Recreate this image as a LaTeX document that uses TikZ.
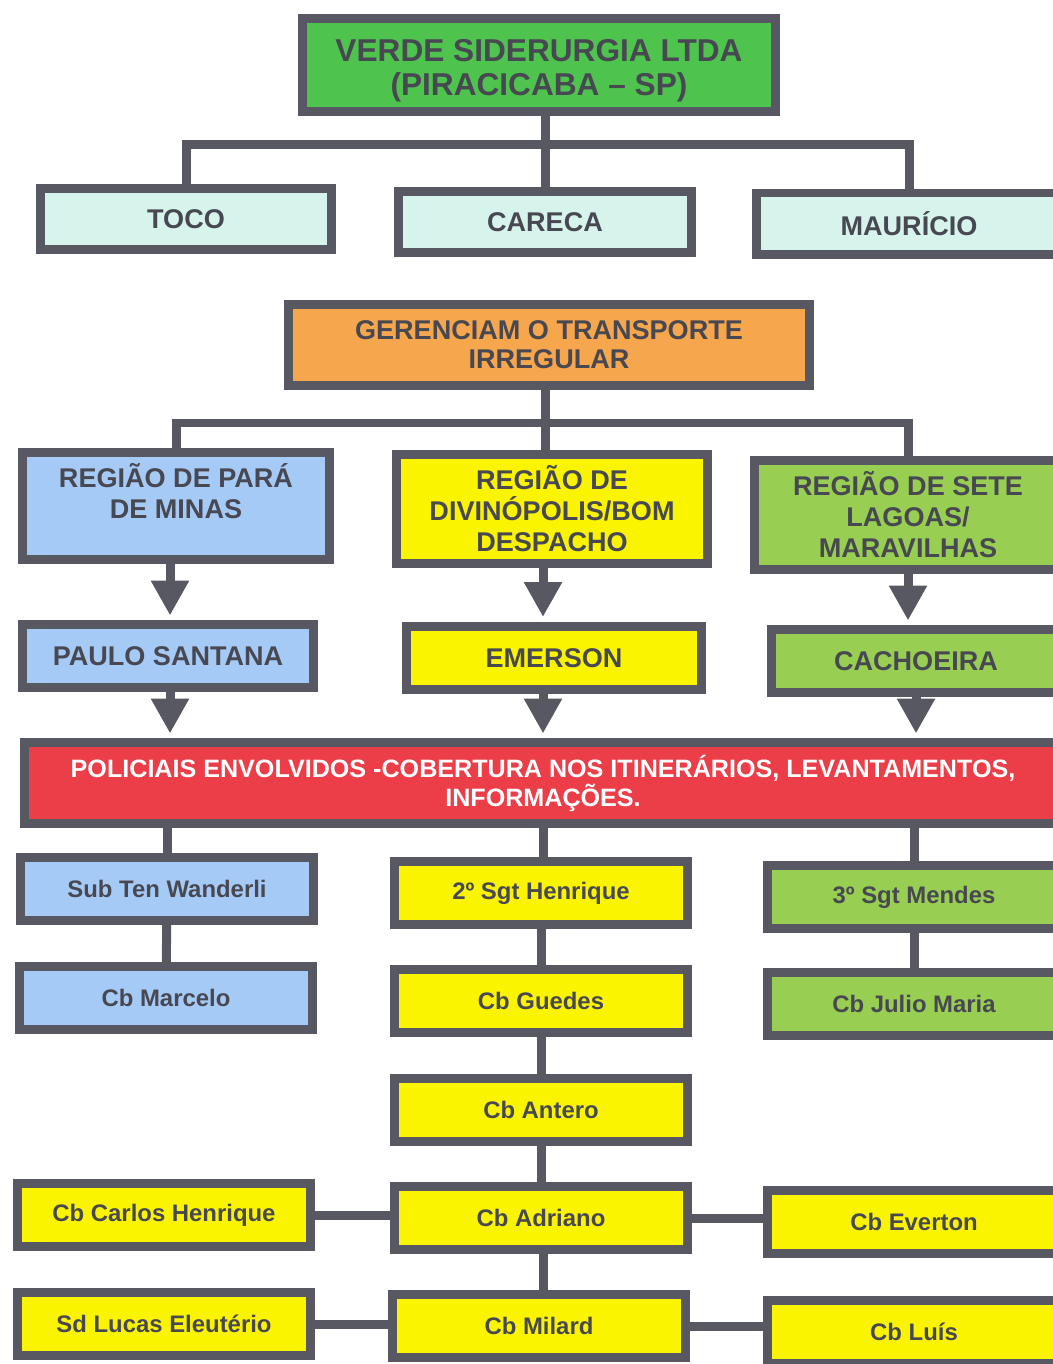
\documentclass[tikz,border=0pt]{standalone}
\usepackage{fontspec}
\setmainfont{Liberation Sans}
\usetikzlibrary{arrows.meta}
\definecolor{edge}{RGB}{88,88,98}
\definecolor{ink}{RGB}{72,72,82}
\definecolor{leafgreen}{RGB}{78,196,78}
\definecolor{mint}{RGB}{214,244,236}
\definecolor{tangerine}{RGB}{246,166,76}
\definecolor{sky}{RGB}{166,202,246}
\definecolor{lemon}{RGB}{250,244,0}
\definecolor{grass}{RGB}{152,206,82}
\definecolor{alarm}{RGB}{236,62,72}
\newcommand*{\lw}{0.18cm}
\newcommand*{\bw}{5.86cm}
\newcommand*{\bh}{1.26cm}
\newcommand*{\capfont}{\bfseries\fontsize{15.4}{17.6}\selectfont}
\newcommand*{\namefont}{\bfseries\fontsize{13.6}{16}\selectfont}
\tikzset{
  box/.style={draw=edge, line width=\lw, inner sep=0pt, align=center, text=ink},
  capbox/.style={box, font=\capfont},
  namebox/.style={box, font=\namefont, minimum width=\bw, minimum height=\bh},
  link/.style={draw=edge, line width=\lw},
  arrow/.style={link, -{Triangle[width=0.72cm,length=0.7cm]}, shorten >=0.09cm},
}

\begin{document}
\begin{tikzpicture}[x=0.02cm, y=-0.02cm]
    \useasboundingbox (0,0) rectangle (1053,1364);
    \clip (0,0) rectangle (1053,1364);
    \coordinate (colL) at (170,0);
    \coordinate (colM) at (543,0);
    % empresa e donos
    \node [capbox, fill=leafgreen, font=\bfseries\fontsize{18}{19.4}\selectfont, minimum width=9.46cm, minimum height=1.86cm, text height=39pt] (verde) at (539,65) {VERDE SIDERURGIA LTDA\\(PIRACICABA – SP)};
    \node [capbox, fill=mint, minimum width=5.82cm, minimum height=1.22cm] (toco) at (186,219) {TOCO};
    \node [capbox, fill=mint, minimum width=5.86cm, minimum height=1.22cm] (careca) at (545,222) {CARECA};
    \node [capbox, fill=mint, minimum width=6.10cm, minimum height=1.24cm] (mauricio) at (909,224) {MAURÍCIO};
    % gerencia
    \node [capbox, fill=tangerine, font=\bfseries\fontsize{15.4}{16.5}\selectfont, minimum width=10.44cm, minimum height=1.62cm] (geren) at (549,345) {GERENCIAM O TRANSPORTE\\IRREGULAR};
    \node [capbox, fill=sky, minimum width=6.16cm, minimum height=2.16cm, text depth=0.6cm] (para) at (176,506) {REGIÃO DE PARÁ\\DE MINAS};
    \node [capbox, fill=lemon, minimum width=6.22cm, minimum height=2.18cm] (divin) at (552,509) {REGIÃO DE\\DIVINÓPOLIS/BOM\\DESPACHO};
    \node [capbox, fill=grass, minimum width=6.14cm, minimum height=2.18cm] (sete) at (908,515) {REGIÃO DE SETE\\LAGOAS/\\MARAVILHAS};
    \node [capbox, fill=sky, minimum width=5.82cm, minimum height=1.26cm] (paulo) at (168,656) {PAULO SANTANA};
    \node [capbox, fill=lemon, minimum width=5.92cm, minimum height=1.28cm] (emerson) at (554,658) {EMERSON};
    \node [capbox, fill=grass, minimum width=5.80cm, minimum height=1.26cm] (cach) at (916,661) {CACHOEIRA};
    % policiais
    \node [box, fill=alarm, text=white, font=\bfseries\fontsize{14.3}{16.5}\selectfont, minimum width=20.74cm, minimum height=1.62cm] (red) at (543,783) {POLICIAIS ENVOLVIDOS -COBERTURA NOS ITINERÁRIOS, LEVANTAMENTOS,\\INFORMAÇÕES.};
    \node [namebox, fill=sky] (wand) at (167,889) {Sub Ten Wanderli};
    \node [namebox, fill=sky] (marcelo) at (166,998) {Cb Marcelo};
    \node [namebox, fill=lemon] (henr) at (541,893) {2º Sgt Henrique};
    \node [namebox, fill=lemon] (guedes) at (541,1001) {Cb Guedes};
    \node [namebox, fill=lemon] (antero) at (541,1110) {Cb Antero};
    \node [namebox, fill=lemon] (adriano) at (541,1218) {Cb Adriano};
    \node [namebox, fill=lemon] (milard) at (539,1326) {Cb Milard};
    \node [namebox, fill=grass] (mendes) at (914,897) {3º Sgt Mendes};
    \node [namebox, fill=grass] (julio) at (914,1004) {Cb Julio Maria};
    \node [namebox, fill=lemon] (carlos) at (164,1215) {Cb Carlos Henrique};
    \node [namebox, fill=lemon] (lucas) at (164,1324) {Sd Lucas Eleutério};
    \node [namebox, fill=lemon] (everton) at (914,1222) {Cb Everton};
    \node [namebox, fill=lemon] (luis) at (914,1332) {Cb Luís};
    % ligacoes
    \coordinate (bus1) at (545,145);
    \draw [link] (bus1 |- verde.south) -- (bus1);
    \draw [link] (toco.north) |- (bus1) -| (mauricio.north);
    \draw [link] (bus1) -- (bus1 |- careca.north);
    \coordinate (bus2) at (545,423);
    \draw [link] (bus2 |- geren.south) -- (bus2);
    \draw [link] (para.north) |- (bus2) -| (sete.north);
    \draw [link] (bus2) -- (bus2 |- divin.north);
    \draw [arrow] (colL |- para.south) -- (colL |- paulo.north);
    \draw [arrow] (colM |- divin.south) -- (colM |- emerson.north);
    \draw [arrow] (sete.south) -- (sete.south |- cach.north);
    \draw [arrow] (colL |- paulo.south) -- (colL |- red.north);
    \draw [arrow] (colM |- emerson.south) -- (colM |- red.north);
    \draw [arrow] (cach.south) -- (cach.south |- red.north);
    \draw [link] (wand.north |- red.south) -- (wand.north);
    \draw [link] (colM |- red.south) -- (colM |- henr.north);
    \draw [link] (mendes.north |- red.south) -- (mendes.north);
    \draw [link] (wand) -- (marcelo);
    \draw [link] (mendes) -- (julio);
    \draw [link] (henr) -- (guedes);
    \draw [link] (guedes) -- (antero);
    \draw [link] (antero) -- (adriano);
    \draw [link] (colM |- adriano.south) -- (colM |- milard.north);
    \draw [link] (carlos.east) -- (carlos.east -| adriano.west);
    \draw [link] (adriano.east) -- (adriano.east -| everton.west);
    \draw [link] (lucas.east) -- (lucas.east -| milard.west);
    \draw [link] (milard.east) -- (milard.east -| luis.west);
\end{tikzpicture}
\end{document}
